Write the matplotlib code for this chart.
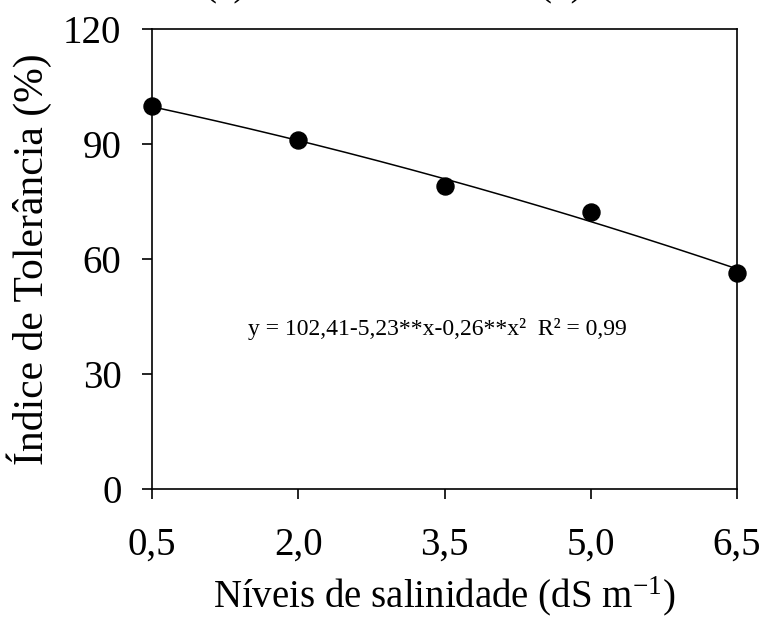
import numpy as np
import matplotlib
matplotlib.use("Agg")
import matplotlib.pyplot as plt

plt.rcParams['font.family'] = ['Liberation Serif', 'DejaVu Serif']
plt.rcParams['mathtext.fontset'] = 'custom'
plt.rcParams['mathtext.rm'] = 'Liberation Serif'
plt.rcParams['mathtext.it'] = 'Liberation Serif'

# data
salinity = [0.5, 2.0, 3.5, 5.0, 6.5]
tolerance = [100.0, 91.0, 79.0, 72.2, 56.4]
coef = [102.41, -5.23, -0.26]  # intercept, linear, quadratic (from equation)
xticklabels = ['0,5', '2,0', '3,5', '5,0', '6,5']
yticks = [0, 30, 60, 90, 120]
equation = 'y = 102,41-5,23**x-0,26**x²  R² = 0,99'

fig = plt.figure(figsize=(7.6, 6.19), dpi=100)
ax = fig.add_axes([152/760, 1 - 489/619, (737-152)/760, (489-29)/619])

xs = np.linspace(salinity[0], salinity[-1], 200)
ax.plot(xs, coef[0] + coef[1]*xs + coef[2]*xs**2, color='black', lw=1.1, zorder=2)
ax.scatter(salinity, tolerance, s=150, color='black', zorder=3, clip_on=False)

ax.set_xlim(0.5, 6.5)
ax.set_ylim(0, 120)
ax.set_xticks(salinity)
ax.set_xticklabels(xticklabels)
ax.set_yticks(yticks)
ax.tick_params(axis='both', direction='out', length=7, width=1.2, labelsize=28)
ax.tick_params(axis='x', pad=20)
ax.tick_params(axis='y', pad=15)
for sp in ax.spines.values():
    sp.set_linewidth(1.2)

ax.set_xlabel('Níveis de salinidade (dS m$^{-1}$)', fontsize=28, labelpad=8)
ax.set_ylabel('Índice de Tolerância (%)', fontsize=30)
ax.yaxis.set_label_coords(-100/585, 0.5)

ax.text(1.485, 40.2, equation, fontsize=17, ha='left', va='baseline')

fig.text(225/760, 1 - 4/619, '(a)', fontsize=28, ha='center', va='bottom')
fig.text(561/760, 1 - 4/619, '(b)', fontsize=28, ha='center', va='bottom')

fig.savefig('out.png', dpi=100)
